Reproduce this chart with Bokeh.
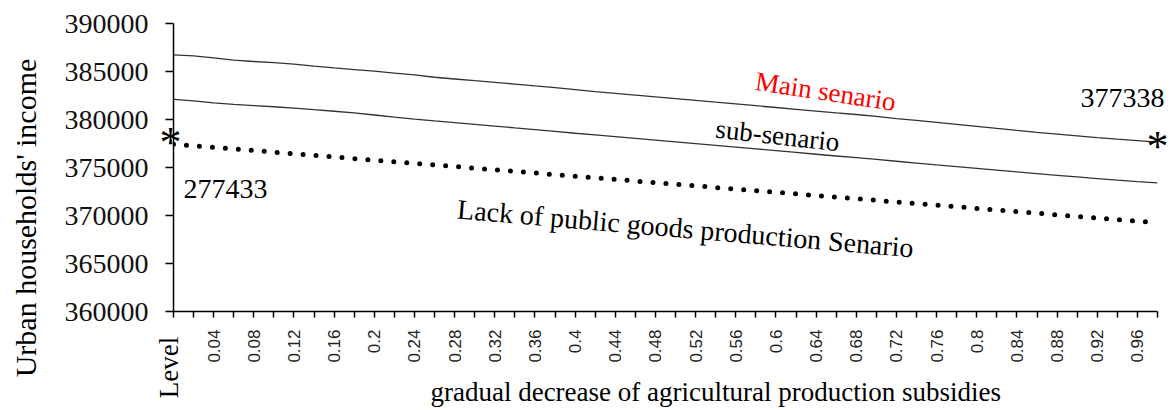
from math import pi
from bokeh.plotting import figure
from bokeh.models import Range1d, FixedTicker, Label, BasicTickFormatter, ColumnDataSource
from bokeh.core.properties import value
from bokeh.embed import file_html
from bokeh.resources import INLINE

# ---------------- data ----------------
x_labels = ["Level", "0.02", "0.04", "0.06", "0.08", "0.1", "0.12", "0.14", "0.16", "0.18",
            "0.2", "0.22", "0.24", "0.26", "0.28", "0.3", "0.32", "0.34", "0.36", "0.38",
            "0.4", "0.42", "0.44", "0.46", "0.48", "0.5", "0.52", "0.54", "0.56", "0.58",
            "0.6", "0.62", "0.64", "0.66", "0.68", "0.7", "0.72", "0.74", "0.76", "0.78",
            "0.8", "0.82", "0.84", "0.86", "0.88", "0.9", "0.92", "0.94", "0.96", "0.98"]

main_senario = [386740, 386620, 386420, 386180, 386040, 385920, 385770, 385560, 385370, 385200,
                385030, 384840, 384640, 384400, 384220, 384040, 383870, 383690, 383500, 383320,
                383120, 382900, 382720, 382540, 382360, 382180, 381990, 381800, 381620, 381440,
                381250, 381060, 380880, 380690, 380520, 380320, 380100, 379900, 379700, 379500,
                379290, 379070, 378860, 378660, 378480, 378300, 378120, 377950, 377790, 377640]

sub_senario = [382090, 381930, 381740, 381570, 381450, 381330, 381190, 381020, 380860, 380680,
               380470, 380240, 380040, 379850, 379680, 379500, 379320, 379130, 378950, 378760,
               378570, 378390, 378210, 378030, 377850, 377670, 377490, 377310, 377130, 376950,
               376760, 376570, 376380, 376200, 376020, 375840, 375650, 375460, 375270, 375090,
               374900, 374720, 374540, 374360, 374190, 374020, 373850, 373680, 373530, 373400]

public_goods = [377433, 377270, 377100, 376930, 376770, 376600, 376430, 376270, 376100, 375930,
                375760, 375600, 375430, 375260, 375100, 374930, 374760, 374590, 374430, 374260,
                374090, 373920, 373760, 373590, 373420, 373260, 373090, 372920, 372750, 372590,
                372420, 372250, 372080, 371920, 371750, 371580, 371410, 371250, 371080, 370910,
                370740, 370580, 370410, 370240, 370070, 369910, 369740, 369570, 369400, 369240]

y_ticks = [360000, 365000, 370000, 375000, 380000, 385000, 390000]

start_label = "277433"
end_label = "377338"

# ---------------- figure ----------------
idx = list(range(len(x_labels)))
SERIF = "Liberation Serif"

p = figure(width=1173, height=410, output_backend="svg", toolbar_location=None,
           x_range=Range1d(0, len(x_labels) - 1), y_range=Range1d(y_ticks[0], y_ticks[-1]),
           min_border_left=173, min_border_right=16, min_border_top=23, min_border_bottom=99)
p.outline_line_color = None
p.xgrid.visible = False
p.ygrid.visible = False
p.background_fill_color = "white"
p.border_fill_color = "white"

# x axis
xa = p.xaxis[0]
xa.ticker = FixedTicker(ticks=idx)
xa.major_label_overrides = {i: (x_labels[i] if (i % 2 == 0 and i > 0) else "") for i in idx}
xa.major_label_orientation = pi / 2
xa.major_label_text_font = "Liberation Sans"
xa.major_label_text_font_size = "17px"
xa.major_label_text_color = "#222222"
xa.major_label_standoff = 12
xa.major_tick_in = 0
xa.major_tick_out = 6
xa.minor_tick_line_color = None
xa.axis_line_width = 1.5
xa.major_tick_line_width = 1.5
xa.axis_line_color = "black"
xa.major_tick_line_color = "black"

# y axis
ya = p.yaxis[0]
ya.ticker = FixedTicker(ticks=y_ticks)
ya.formatter = BasicTickFormatter(use_scientific=False)
ya.major_label_text_font = SERIF
ya.major_label_text_font_size = "28px"
ya.major_label_text_color = "#111111"
ya.major_label_standoff = 17
ya.major_tick_in = 0
ya.major_tick_out = 8
ya.minor_tick_line_color = None
ya.axis_line_width = 1.5
ya.major_tick_line_width = 1.5
ya.axis_line_color = "black"
ya.major_tick_line_color = "black"

src = ColumnDataSource(dict(x=idx, main=main_senario, sub=sub_senario, pub=public_goods))

p.line("x", "main", source=src, line_color="#333333", line_width=1.3)
p.line("x", "sub", source=src, line_color="#333333", line_width=1.3)
p.line("x", "pub", source=src, line_color="black", line_width=5,
       line_dash="0 13", line_cap="round")

# ---------------- series names inside the plot area ----------------
def lab(**kw):
    base = dict(text_font=SERIF, text_color="black", text_font_size="27px")
    base.update(kw)
    p.add_layout(Label(**base))

lab(x=32.47, y=382917, text="Main senario", text_color="#ff0000", angle=-0.15,
    text_align="center", text_baseline="middle")
lab(x=30.08, y=378333, text="sub-senario", angle=-0.11,
    text_align="center", text_baseline="middle")
lab(x=25.5, y=368645, text="Lack of public goods production Senario", angle=-0.085,
    text_align="center", text_baseline="middle", text_font_size="28px")

# ---------------- texts that may reach outside the plot area (overlay level) ----------------
def txt(x, y, t, size, **kw):
    p.text(x=[x], y=[y], text=[t], text_font=value(SERIF), text_font_size=size,
           text_color="black", level="overlay", **kw)

# asterisks at start of dotted line and end of main line
txt(idx[0], public_goods[0], "*", "44px", text_align="center", text_baseline="alphabetic",
    x_offset=-3, y_offset=-2)
txt(idx[-1], main_senario[-1], "*", "44px", text_align="center", text_baseline="alphabetic",
    y_offset=4)

txt(0.5, 371770, start_label, "28px", text_align="left", text_baseline="alphabetic",
    y_offset=-10)
txt(47.26, 381250, end_label, "28px", text_align="center", text_baseline="alphabetic",
    y_offset=-10)

# category label "Level" (serif, rotated)
txt(0, 354167, x_labels[0], "27px", angle=pi / 2, text_align="center",
    text_baseline="middle", x_offset=-5)

# axis titles
txt(27.0, 350624, "gradual decrease of agricultural production subsidies", "27px",
    text_align="center", text_baseline="alphabetic", y_offset=-10)
txt(-7.37, 369739, "Urban households' income", "30px", angle=pi / 2,
    text_align="center", text_baseline="middle")

open("out.html", "w").write(file_html(p, INLINE))
